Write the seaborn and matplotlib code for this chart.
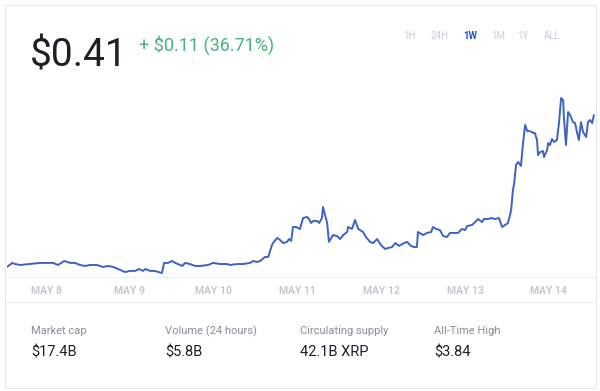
import numpy as np
import pandas as pd
import seaborn as sns
import matplotlib.pyplot as plt
from matplotlib.patches import Rectangle
from matplotlib.lines import Line2D

# XRP price, one week (hours since May 7 00:00)
hours = [12.8, 14.3, 15.1, 16.6, 19.4, 22.3, 24.3, 26.0, 27.4, 29.2, 30.9, 32.3, 33.7, 35.2, 36.6,
         38.6, 40.3, 41.8, 43.2, 44.6, 46.6, 48.1, 49.5, 50.6, 51.8, 52.4, 53.8, 55.2, 56.1, 57.2,
         57.8, 58.9, 60.1, 61.0, 62.4, 63.0, 63.8, 65.2, 66.7, 68.1, 70.4, 71.8, 73.8, 75.8, 76.7,
         78.7, 80.4, 82.4, 83.3, 84.4, 85.3, 86.7, 87.6, 88.7, 89.0, 90.2, 91.0, 91.9, 93.0, 93.6,
         94.2, 94.7, 95.6, 96.7, 97.6, 98.7, 99.3, 99.9, 100.5, 101.6, 102.2, 103.0, 103.3, 104.5,
         105.0, 106.2, 107.3, 108.2, 109.1, 110.2, 110.5, 111.6, 112.5, 113.4, 114.8, 115.6, 116.8,
         117.7, 118.8, 119.9, 121.1, 121.9, 123.1, 124.0, 125.1, 126.5, 127.4, 128.5, 129.4, 130.2,
         130.5, 132.0, 133.1, 134.3, 134.8, 135.7, 136.8, 137.7, 138.8, 139.7, 141.1, 142.0, 143.1,
         144.0, 144.6, 146.0, 146.9, 147.7, 148.9, 149.4, 150.6, 151.4, 152.6, 153.7, 154.6, 155.5,
         156.3, 157.2, 157.7, 158.0, 158.6, 159.2, 160.0, 160.6, 161.2, 161.8, 162.3, 163.2, 163.5,
         164.0, 164.6, 164.9, 165.5, 166.3, 166.6, 167.5, 167.8, 168.3, 168.9, 169.5, 170.3, 170.9,
         171.5, 172.1, 172.3, 172.9, 173.5, 174.1, 174.9, 175.5, 176.1, 176.6, 177.2, 177.8, 178.7,
         179.2, 179.8, 180.4, 180.9]
price = [0.3000, 0.3029, 0.3021, 0.3014, 0.3021, 0.3029, 0.3029, 0.3029, 0.3014, 0.3043, 0.3029,
         0.3029, 0.3014, 0.3007, 0.3014, 0.3014, 0.3000, 0.3007, 0.3000, 0.2985, 0.2963, 0.2971,
         0.2971, 0.2985, 0.2971, 0.2985, 0.2971, 0.2971, 0.2963, 0.2956, 0.3029, 0.3029, 0.3043,
         0.3029, 0.3014, 0.3007, 0.3029, 0.3021, 0.3007, 0.3007, 0.3014, 0.3029, 0.3021, 0.3021,
         0.3014, 0.3021, 0.3021, 0.3029, 0.3043, 0.3036, 0.3043, 0.3072, 0.3072, 0.3159, 0.3173,
         0.3210, 0.3195, 0.3173, 0.3181, 0.3202, 0.3188, 0.3289, 0.3289, 0.3275, 0.3354, 0.3362,
         0.3347, 0.3318, 0.3333, 0.3333, 0.3318, 0.3354, 0.3434, 0.3318, 0.3181, 0.3231, 0.3224,
         0.3202, 0.3231, 0.3253, 0.3289, 0.3275, 0.3340, 0.3275, 0.3253, 0.3217, 0.3181, 0.3173,
         0.3202, 0.3159, 0.3130, 0.3137, 0.3144, 0.3173, 0.3152, 0.3173, 0.3181, 0.3152, 0.3144,
         0.3144, 0.3253, 0.3231, 0.3246, 0.3253, 0.3289, 0.3275, 0.3267, 0.3224, 0.3217, 0.3246,
         0.3246, 0.3246, 0.3275, 0.3267, 0.3296, 0.3304, 0.3325, 0.3347, 0.3325, 0.3347, 0.3347,
         0.3354, 0.3347, 0.3354, 0.3289, 0.3304, 0.3318, 0.3412, 0.3557, 0.3593, 0.3738, 0.3760,
         0.3731, 0.3897, 0.4028, 0.3984, 0.3984, 0.3977, 0.3970, 0.3970, 0.3919, 0.3810, 0.3832,
         0.3839, 0.3796, 0.3847, 0.3897, 0.3883, 0.3926, 0.3905, 0.3919, 0.4042, 0.4223, 0.4209,
         0.4086, 0.3883, 0.4122, 0.4100, 0.4049, 0.4042, 0.3970, 0.3919, 0.4049, 0.3977, 0.3941,
         0.4049, 0.4064, 0.4042, 0.4100]

tick_days = ['2018-05-08', '2018-05-09', '2018-05-10', '2018-05-11', '2018-05-12', '2018-05-13', '2018-05-14']
tick_labels = ['MAY 8', 'MAY 9', 'MAY 10', 'MAY 11', 'MAY 12', 'MAY 13', 'MAY 14']
ranges = ['1H', '24H', '1W', '1M', '1Y', 'ALL']
active_range = '1W'
stat_names = ['Market cap', 'Volume (24 hours)', 'Circulating supply', 'All-Time High']
stat_values = ['$17.4B', '$5.8B', '42.1B XRP', '$3.84']
current = '$0.41'
change = '+ $0.11 (36.71%)'

start = pd.Timestamp('2018-05-07')
df = pd.DataFrame({'time': start + pd.to_timedelta(hours, unit='h'), 'price': price})

sns.set_theme(style='white')
plt.rcParams['font.family'] = ['Roboto', 'DejaVu Sans']

W, H = 600, 391
fig = plt.figure(figsize=(W / 100, H / 100), dpi=100)
fig.patch.set_facecolor('white')

def fx(x):
    return x / W

def fy(y):
    return 1 - y / H

# card border (behind everything)
fig.add_artist(Rectangle((fx(5), fy(388)), fx(591), 383 / H, transform=fig.transFigure,
                         facecolor='none', edgecolor='#e6e8eb', lw=0.8, zorder=-10))

ax = fig.add_axes([fx(7), fy(277), fx(589), (277 - 75) / H])
sns.lineplot(data=df, x='time', y='price', ax=ax, color='#3c63c2', linewidth=1.4)
ax.set_xlim(start + pd.Timedelta(hours=12.8), start + pd.Timedelta(hours=181.5))
ax.set_ylim(0.2927, 0.4390)
ax.patch.set_alpha(0)
ax.set_xlabel('')
ax.set_ylabel('')
ax.set_yticks([])
ax.set_xticks(pd.to_datetime(tick_days))
ax.set_xticklabels(tick_labels, color='#c4c9d1', fontsize=7.5, fontweight='bold')
ax.tick_params(axis='x', length=0, pad=6.5)
for s in ['top', 'left', 'right']:
    ax.spines[s].set_visible(False)
ax.spines['bottom'].set_color('#eceef1')
ax.spines['bottom'].set_linewidth(0.8)

fig.add_artist(Line2D([fx(5), fx(596)], [fy(302), fy(302)], transform=fig.transFigure,
                      color='#eceef1', lw=0.8))

# header
fig.text(fx(30), fy(67), current, fontsize=28, color='#1b2029', va='baseline')
fig.text(fx(139), fy(51), change, fontsize=13, color='#45b27e', va='baseline')
range_x = [409, 440, 470, 498, 523, 552]
for r, x in zip(ranges, range_x):
    act = r == active_range
    fig.text(fx(x), fy(36), r, fontsize=7, ha='center', va='center',
             color='#2355c6' if act else '#c9ced6', fontweight='bold' if act else 'normal')

# stats row
stat_x = [31, 165, 300, 434]
for name, val, x in zip(stat_names, stat_values, stat_x):
    fig.text(fx(x), fy(331), name, fontsize=8, color='#888f9b', va='center')
    fig.text(fx(x), fy(352), val, fontsize=10.5, color='#1b2029', va='center')

fig.savefig('out.png', dpi=100)
